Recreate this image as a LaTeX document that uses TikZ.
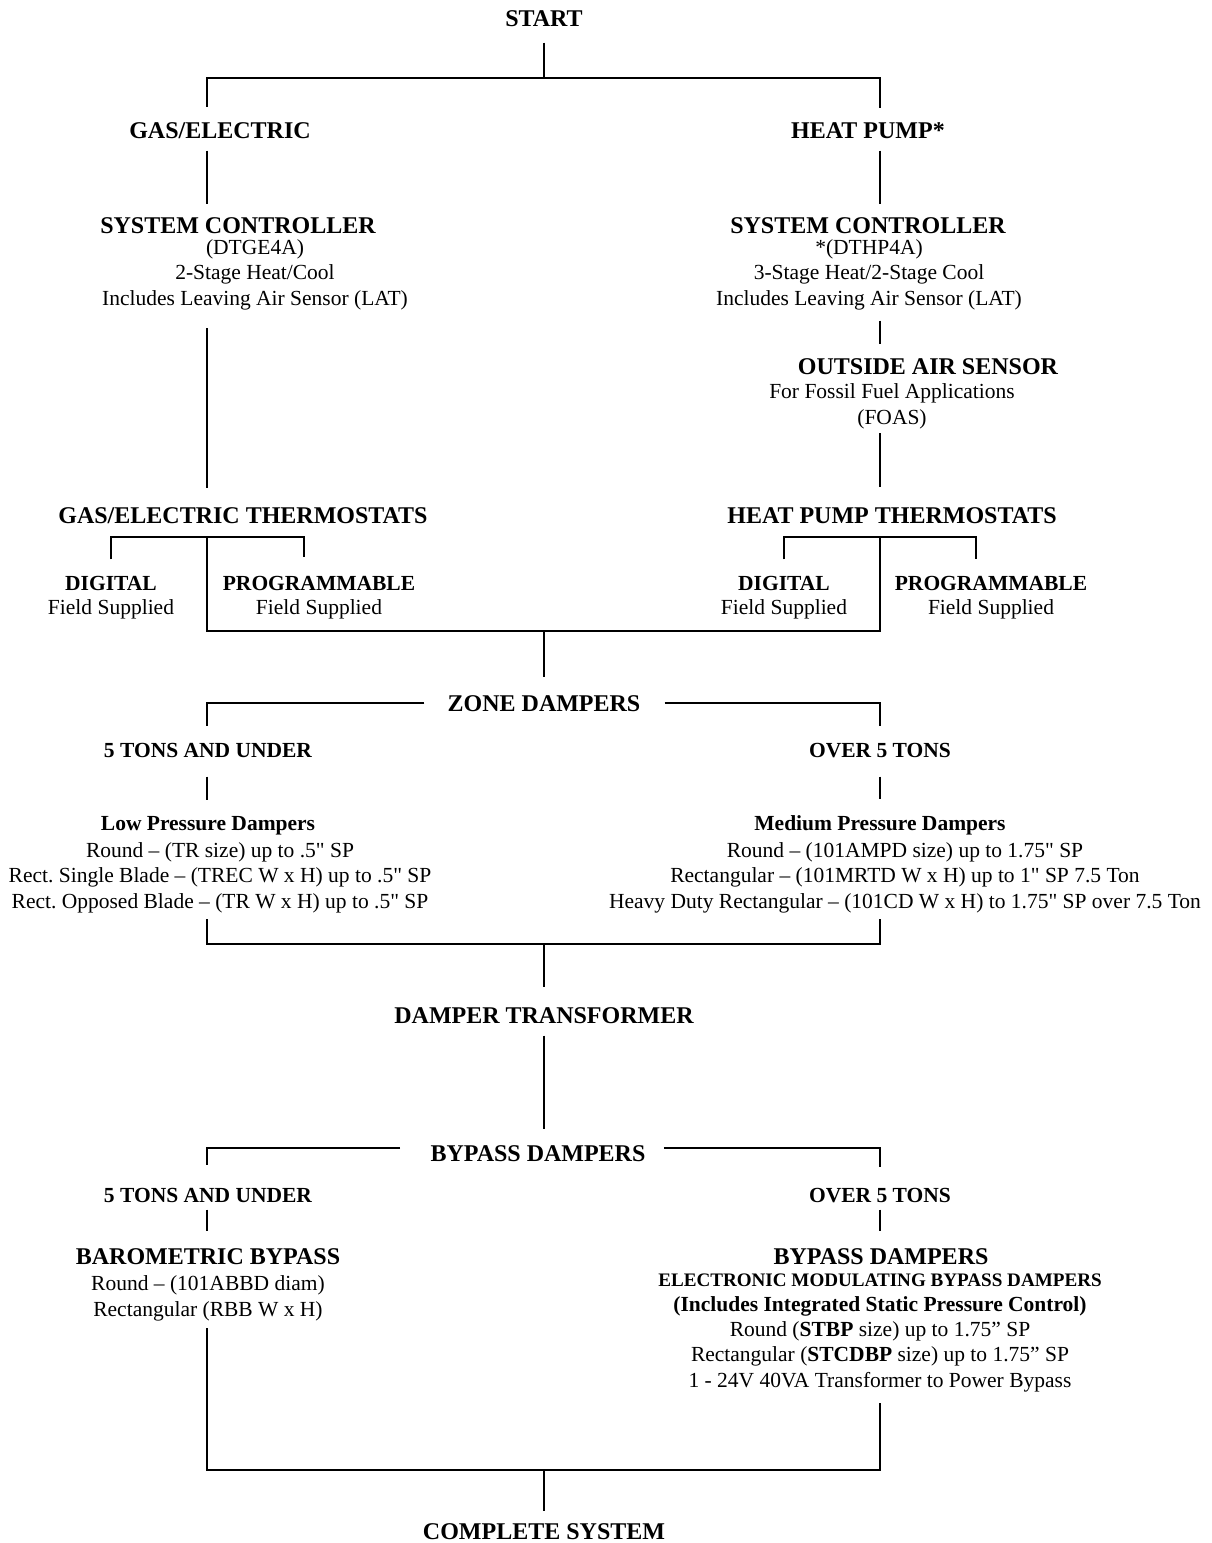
\documentclass[tikz,border=0pt]{standalone}
\usepackage{fontspec}
\setmainfont{Liberation Serif}[Ligatures=TeXOff]
\frenchspacing

\tikzset{
  link/.style={line width=1.1pt},
  head/.style={font=\fontsize{12}{12.75}\selectfont\bfseries, inner sep=0pt, anchor=base},
  sub/.style={font=\fontsize{10.75}{12.75}\selectfont\bfseries, inner sep=0pt, anchor=base},
  info/.style={font=\fontsize{10.75}{12.75}\selectfont, inner sep=0pt, anchor=base, align=center},
  pick/.style={font=\fontsize{10.75}{12}\selectfont, inner sep=0pt, anchor=base, align=center}
}

\begin{document}
\begin{tikzpicture}[x=0.5pt,y=-0.5pt]
  \useasboundingbox (0,0) rectangle (1211,1543);
  % the two columns of the chart
  \coordinate (L) at (207,0);
  \coordinate (R) at (880,0);

  % start and system type
  \node[head] (start) at (544,26) {START};
  \node[head] (gas) at (220,138) {GAS/ELECTRIC};
  \node[head] (hp) at (868,138) {HEAT PUMP*};

  % controllers (multi-line nodes sit on their last line)
  \node[head] (scL) at (238,233) {SYSTEM CONTROLLER};
  \node[info] (scLi) at (255,305) {(DTGE4A)\\2-Stage Heat/Cool\\Includes Leaving Air Sensor (LAT)};
  \node[head] (scR) at (868,233) {SYSTEM CONTROLLER};
  \node[info] (scRi) at (869,305) {*(DTHP4A)\\3-Stage Heat/2-Stage Cool\\Includes Leaving Air Sensor (LAT)};
  \node[head] (oas) at (928,374) {OUTSIDE AIR SENSOR};
  \node[info] (oasi) at (892,424) {For Fossil Fuel Applications\\(FOAS)};

  % thermostats
  \node[head] (gast) at (243,523) {GAS/ELECTRIC THERMOSTATS};
  \node[head] (hpt) at (892,523) {HEAT PUMP THERMOSTATS};
  \node[pick] (digL) at (111,614) {\textbf{DIGITAL}\\Field Supplied};
  \node[pick] (progL) at (319,614) {\textbf{PROGRAMMABLE}\\Field Supplied};
  \node[pick] (digR) at (784,614) {\textbf{DIGITAL}\\Field Supplied};
  \node[pick] (progR) at (991,614) {\textbf{PROGRAMMABLE}\\Field Supplied};

  % zone dampers
  \node[head] (zone) at (544,711) {ZONE DAMPERS};
  \node[sub] (smallZ) at (208,757) {5 TONS AND UNDER};
  \node[sub] (bigZ) at (880,757) {OVER 5 TONS};
  \node[sub] (lowp) at (208,830) {Low Pressure Dampers};
  \node[info] (lowi) at (220,908) {Round – (TR size) up to .5" SP\\Rect. Single Blade – (TREC W x H) up to .5" SP\\Rect. Opposed Blade – (TR W x H) up to .5" SP};
  \node[sub] (medp) at (880,830) {Medium Pressure Dampers};
  \node[info] (medi) at (905,908) {Round – (101AMPD size) up to 1.75" SP\\Rectangular – (101MRTD W x H) up to 1" SP 7.5 Ton\\Heavy Duty Rectangular – (101CD W x H) to 1.75" SP over 7.5 Ton};
  \node[head] (trans) at (544,1023) {DAMPER TRANSFORMER};

  % bypass dampers
  \node[head] (bypass) at (538,1161) {BYPASS DAMPERS};
  \node[sub] (smallB) at (208,1202) {5 TONS AND UNDER};
  \node[sub] (bigB) at (880,1202) {OVER 5 TONS};
  \node[head] (baro) at (208,1264) {BAROMETRIC BYPASS};
  \node[info] (baroi) at (208,1316) {Round – (101ABBD diam)\\Rectangular (RBB W x H)};
  \node[head] (bpd) at (881,1264) {BYPASS DAMPERS};
  \node[info, font=\fontsize{10.75}{12.6}\selectfont] (bpdi) at (880,1387)
    {{\fontsize{9.55}{12.6}\selectfont\bfseries ELECTRONIC MODULATING BYPASS DAMPERS}\\
     \textbf{(Includes Integrated Static Pressure Control)}\\
     Round (\textbf{STBP} size) up to 1.75” SP\\
     Rectangular (\textbf{STCDBP} size) up to 1.75” SP\\
     1 - 24V 40VA Transformer to Power Bypass};
  \node[head] (done) at (544,1539) {COMPLETE SYSTEM};

  % connectors
  \coordinate (bar1) at (544,78);
  \draw[link,shorten <=8pt] (start) -- (bar1);
  \draw[link,shorten <=7.5pt,shorten >=7pt] (L |- gas.north) |- (bar1) -| (R |- hp.north);
  \draw[link,shorten <=6pt,shorten >=6.25pt] (L |- gas.south) -- (L |- scL.north);
  \draw[link,shorten <=6pt,shorten >=6.25pt] (R |- hp.south) -- (R |- scR.north);
  \draw[link,shorten <=9pt,shorten >=9.5pt] (L |- scLi.south) -- (L |- gast.north);
  \draw[link,shorten <=5.25pt,shorten >=6.75pt] (R |- scRi.south) -- (R |- oas.north);
  \draw[link,shorten <=2.25pt,shorten >=9.75pt] (R |- oasi.south) -- (R |- hpt.north);

  % thermostat brackets
  \coordinate (tL) at (304,537);
  \coordinate (tR) at (976,537);
  \draw[link,shorten <=8pt,shorten >=9pt] (digL) |- (tL) -- (tL |- progL.north);
  \draw[link,shorten <=8pt,shorten >=8pt] (digR) |- (tR) -- (tR |- progR.north);
  \coordinate (gather1) at (544,631);
  \draw[link] (L |- tL) |- (gather1) -| (R |- tR);
  \draw[link,shorten >=8.75pt] (gather1) -- (zone);

  % zone damper branches
  \draw[link,shorten <=11.5pt,shorten >=8pt] (zone.west) -| (L |- smallZ.north);
  \draw[link,shorten <=12pt,shorten >=8pt] (zone.east) -| (R |- bigZ.north);
  \draw[link,shorten <=9.5pt,shorten >=8pt] (L |- smallZ.south) -- (L |- lowp.north);
  \draw[link,shorten <=9.5pt,shorten >=8pt] (R |- bigZ.south) -- (R |- medp.north);
  \coordinate (gather2) at (544,944);
  \draw[link,shorten <=3.2pt,shorten >=3.2pt] (L |- lowi.south) |- (gather2) -| (R |- medi.south);
  \draw[link,shorten >=9.75pt] (gather2) -- (trans);
  \draw[link,shorten <=6pt,shorten >=7.75pt] (trans) -- (trans |- bypass.north);

  % bypass branches
  \coordinate (bbar) at (544,1148);
  \draw[link,shorten <=15pt,shorten >=11pt] (bbar -| bypass.west) -| (L |- smallB.north);
  \draw[link,shorten <=9pt,shorten >=10pt] (bbar -| bypass.east) -| (R |- bigB.north);
  \draw[link,shorten <=3.5pt,shorten >=8.25pt] (L |- smallB.south) -- (L |- baro.north);
  \draw[link,shorten <=3.5pt,shorten >=8.25pt] (R |- bigB.south) -- (R |- bpd.north);
  \coordinate (gather3) at (544,1470);
  \draw[link,shorten <=3.7pt,shorten >=5.7pt] (L |- baroi.south) |- (gather3) -| (R |- bpdi.south);
  \draw[link,shorten >=5.75pt] (gather3) -- (done);
\end{tikzpicture}
\end{document}
